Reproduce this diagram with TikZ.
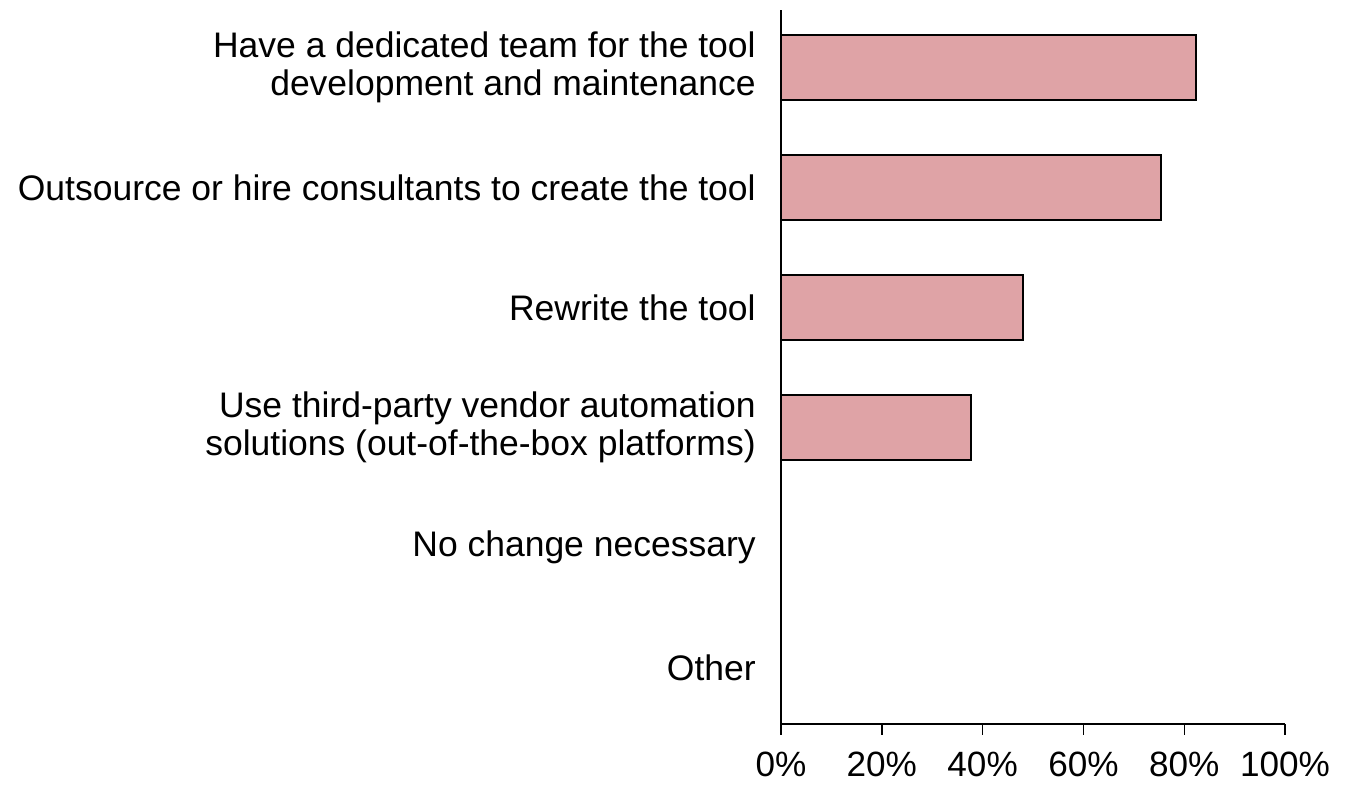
\documentclass[tikz,border=0pt]{standalone}
\usepackage{fontspec}
\setmainfont{Liberation Sans}
\usepackage{xcolor}
\definecolor{barpink}{HTML}{DFA3A6}

\begin{document}
\begin{tikzpicture}[x=0.02cm,y=-0.02cm,
	catlabel/.style={anchor=east,align=right,inner sep=0pt,font=\fontsize{20.2}{21.8}\selectfont},
	ticklabel/.style={anchor=base,inner sep=0pt,font=\fontsize{20}{24}\selectfont}]
		\useasboundingbox (0,0) rectangle (1348,785);
		% bars
		\foreach \v [count=\i] in {82.3,75.4,48,37.7}
			{
				\filldraw [fill=barpink,line width=1pt] (781,-85+120*\i) rectangle (781+5.04*\v,-20+120*\i);
			}
		% category labels
		\node[catlabel](c-1) at (756,67.5){Have a dedicated team for the tool\\development and maintenance};
		\node[catlabel](c-2) at (756,187.5){Outsource or hire consultants to create the tool};
		\node[catlabel](c-3) at (756,307.5){Rewrite the tool};
		\node[catlabel](c-4) at (756,427.5){Use third-party vendor automation\\solutions (out-of-the-box platforms)};
		\node[catlabel](c-5) at (756,547.5){No change necessary};
		\node[catlabel](c-6) at (756,667.5){Other};
		% axes
		\draw[line width=0.8pt] (781,10) -- (781,724) -- (1285,724);
		\foreach \t in {0,...,5}
			{
				\draw[line width=0.8pt] (781+100.8*\t,724) -- (781+100.8*\t,735);
				\node[ticklabel](t-\t) at (781+100.8*\t,776){\pgfmathparse{int(20*\t)}\pgfmathresult\%};
			}
	\end{tikzpicture}
\end{document}
